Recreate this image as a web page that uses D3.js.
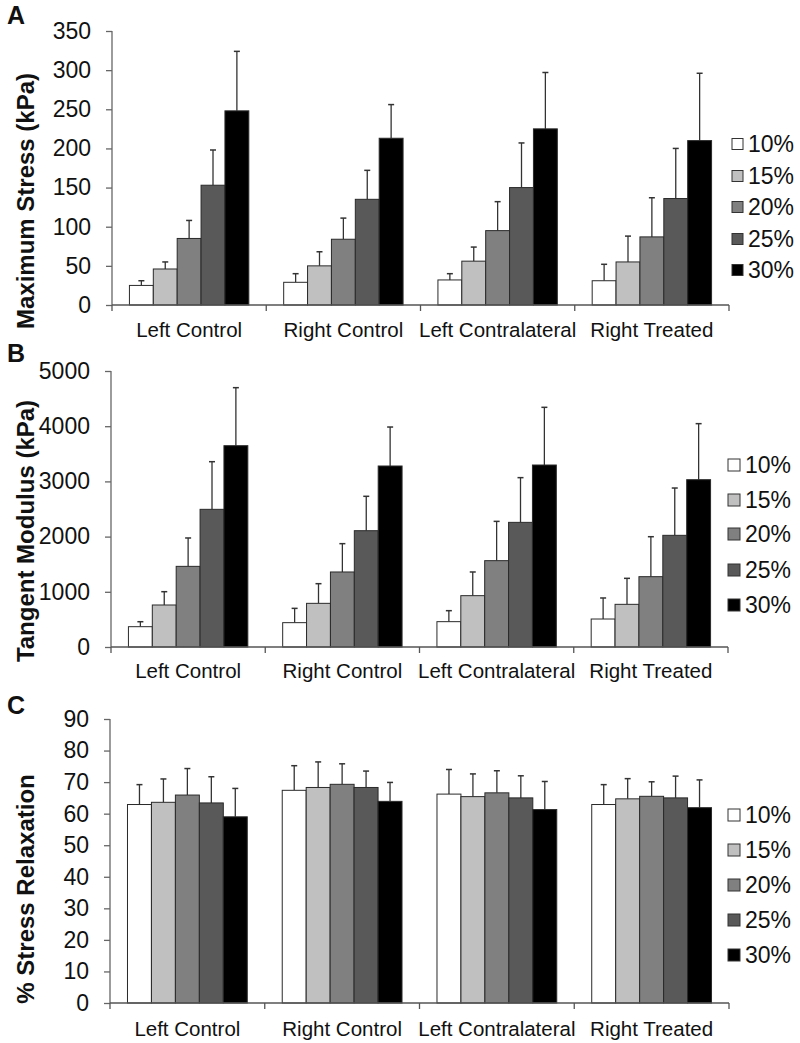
<!DOCTYPE html>
<html>
<head>
<meta charset="utf-8">
<script src="https://cdn.jsdelivr.net/npm/d3@7"></script>
<style>
  body { margin: 0; background: #fff; }
  svg { display: block; font-family: "Liberation Sans", Arial, sans-serif; }
</style>
</head>
<body>
<svg id="chart" width="800" height="1043"></svg>
<script>
// categories and strain levels
var groups = ["Left Control", "Right Control", "Left Contralateral", "Right Treated"];
var strains = ["10%", "15%", "20%", "25%", "30%"];
var fills = ["#ffffff", "#c0c0c0", "#808080", "#595959", "#000000"];

// A - maximum stress (kPa), one row per group, one value per strain
var stressMean = [[25, 46, 85, 153, 248], [29, 50, 84, 135, 213], [32, 56, 95, 150, 225], [31, 55, 87, 136, 210]];
var stressErr  = [[6, 9, 23, 45, 76], [11, 18, 27, 37, 43], [8, 18, 37, 57, 72], [21, 33, 50, 64, 86]];
var stressTicks = [0, 50, 100, 150, 200, 250, 300, 350];

// B - tangent modulus (kPa)
var modMean = [[368, 761, 1461, 2494, 3647], [441, 791, 1359, 2107, 3279], [459, 930, 1564, 2258, 3297], [507, 773, 1274, 2023, 3031]];
var modErr  = [[90, 241, 514, 863, 1051], [259, 356, 513, 623, 706], [199, 429, 712, 810, 1045], [381, 471, 724, 857, 1015]];
var modTicks = [0, 1000, 2000, 3000, 4000, 5000];

// C - % stress relaxation
var relaxMean = [[62.9, 63.6, 65.9, 63.4, 59.0], [67.4, 68.3, 69.3, 68.3, 63.9], [66.2, 65.4, 66.6, 65.0, 61.3], [62.9, 64.7, 65.5, 65.0, 61.9]];
var relaxErr  = [[6.3, 7.4, 8.4, 8.3, 9.0], [7.8, 8.1, 6.5, 5.2, 6.0], [7.8, 7.2, 7.0, 7.0, 8.9], [6.3, 6.4, 4.6, 6.9, 8.8]];
var relaxTicks = [0, 10, 20, 30, 40, 50, 60, 70, 80, 90];

var svg = d3.select("#chart");

// panel placement
var panels = [
  {letter: "A", title: "Maximum Stress (kPa)", mean: stressMean, err: stressErr, ticks: stressTicks,
   x0: 112, x1: 729, yTop: 31, yBot: 305, letterY: 24, titleY: 201, catY: 337,
   legX: 732, legSize: 11, legY: [144, 176, 207, 239, 270]},
  {letter: "B", title: "Tangent Modulus (kPa)", mean: modMean, err: modErr, ticks: modTicks,
   x0: 111, x1: 728, yTop: 371, yBot: 647, letterY: 362, titleY: 531, catY: 678,
   legX: 728, legSize: 12, legY: [465, 500, 534, 570, 605]},
  {letter: "C", title: "% Stress Relaxation", mean: relaxMean, err: relaxErr, ticks: relaxTicks,
   x0: 110, x1: 729, yTop: 719, yBot: 1003, letterY: 714, titleY: 889, catY: 1036,
   legX: 728, legSize: 12, legY: [815, 850, 885, 920, 955]}
];

panels.forEach(function(p) {
  var g = svg.append("g");

  var x = d3.scaleBand().domain(groups).range([p.x0, p.x1]).paddingInner(0).paddingOuter(0);
  var pad = x.bandwidth() * 0.113;
  var xs = d3.scaleBand().domain(strains).range([pad, x.bandwidth() - pad]).padding(0);
  var y = d3.scaleLinear().domain([0, d3.max(p.ticks)]).range([p.yBot, p.yTop]);

  // bars
  groups.forEach(function(grp, gi) {
    var rows = strains.map(function(s, si) {
      return {s: s, i: si, v: p.mean[gi][si], e: p.err[gi][si]};
    });
    var gg = g.append("g").attr("transform", "translate(" + x(grp) + ",0)");

    // error bars first so the bar covers the lower half
    gg.selectAll("line.eb").data(rows).enter().append("line")
      .attr("x1", d => xs(d.s) + xs.bandwidth() / 2)
      .attr("x2", d => xs(d.s) + xs.bandwidth() / 2)
      .attr("y1", d => y(d.v))
      .attr("y2", d => y(d.v + d.e))
      .attr("stroke", "#333").attr("stroke-width", 1.3);
    gg.selectAll("line.cap").data(rows).enter().append("line")
      .attr("x1", d => xs(d.s) + xs.bandwidth() / 2 - 3)
      .attr("x2", d => xs(d.s) + xs.bandwidth() / 2 + 3)
      .attr("y1", d => y(d.v + d.e))
      .attr("y2", d => y(d.v + d.e))
      .attr("stroke", "#333").attr("stroke-width", 1.5);

    gg.selectAll("rect").data(rows).enter().append("rect")
      .attr("x", d => xs(d.s))
      .attr("y", d => y(d.v))
      .attr("width", xs.bandwidth())
      .attr("height", d => y(0) - y(d.v))
      .attr("fill", d => fills[d.i])
      .attr("stroke", "#2a2a2a").attr("stroke-width", 1);
  });

  // y axis
  var yAxis = d3.axisLeft(y).tickValues(p.ticks).tickSize(6).tickPadding(15).tickFormat(d3.format("d"));
  var ya = g.append("g").attr("transform", "translate(" + p.x0 + ",0)").call(yAxis);
  ya.select(".domain").attr("stroke", "#666").attr("stroke-width", 1.3).attr("d", "M0," + p.yBot + "V" + p.yTop);
  ya.selectAll(".tick line").attr("stroke", "#666").attr("stroke-width", 1.3);
  ya.selectAll(".tick text").attr("font-size", 23).attr("fill", "#111")
    .attr("font-family", "Liberation Sans, Arial, sans-serif");

  // x axis: line, boundary ticks, group labels
  var bounds = groups.map(d => x(d)).concat([p.x1]);
  g.append("line").attr("x1", p.x0).attr("x2", p.x1).attr("y1", p.yBot).attr("y2", p.yBot)
    .attr("stroke", "#555").attr("stroke-width", 1.3);
  g.selectAll("line.xt").data(bounds).enter().append("line")
    .attr("x1", d => d).attr("x2", d => d)
    .attr("y1", p.yBot).attr("y2", p.yBot + 6)
    .attr("stroke", "#555").attr("stroke-width", 1.3);
  g.selectAll("text.cat").data(groups).enter().append("text")
    .attr("x", d => x(d) + x.bandwidth() / 2)
    .attr("y", p.catY)
    .attr("text-anchor", "middle")
    .attr("font-size", 20.5).attr("fill", "#111")
    .text(d => d);

  // axis title
  g.append("text")
    .attr("transform", "translate(34," + p.titleY + ") rotate(-90)")
    .attr("text-anchor", "middle")
    .attr("font-size", 24).attr("font-weight", "bold").attr("fill", "#111")
    .text(p.title);

  // panel letter
  g.append("text").attr("x", 7).attr("y", p.letterY)
    .attr("font-size", 25).attr("font-weight", "bold").attr("fill", "#111")
    .text(p.letter);

  // legend
  var leg = g.selectAll("g.leg").data(strains).enter().append("g")
    .attr("transform", (d, i) => "translate(" + p.legX + "," + p.legY[i] + ")");
  leg.append("rect")
    .attr("x", 0).attr("y", -p.legSize / 2)
    .attr("width", p.legSize).attr("height", p.legSize)
    .attr("fill", (d, i) => fills[i])
    .attr("stroke", "#333").attr("stroke-width", 1);
  leg.append("text")
    .attr("x", p.legSize + 5).attr("y", 0).attr("dy", "0.35em")
    .attr("font-size", 23).attr("fill", "#111")
    .text(d => d);
});
</script>
</body>
</html>
